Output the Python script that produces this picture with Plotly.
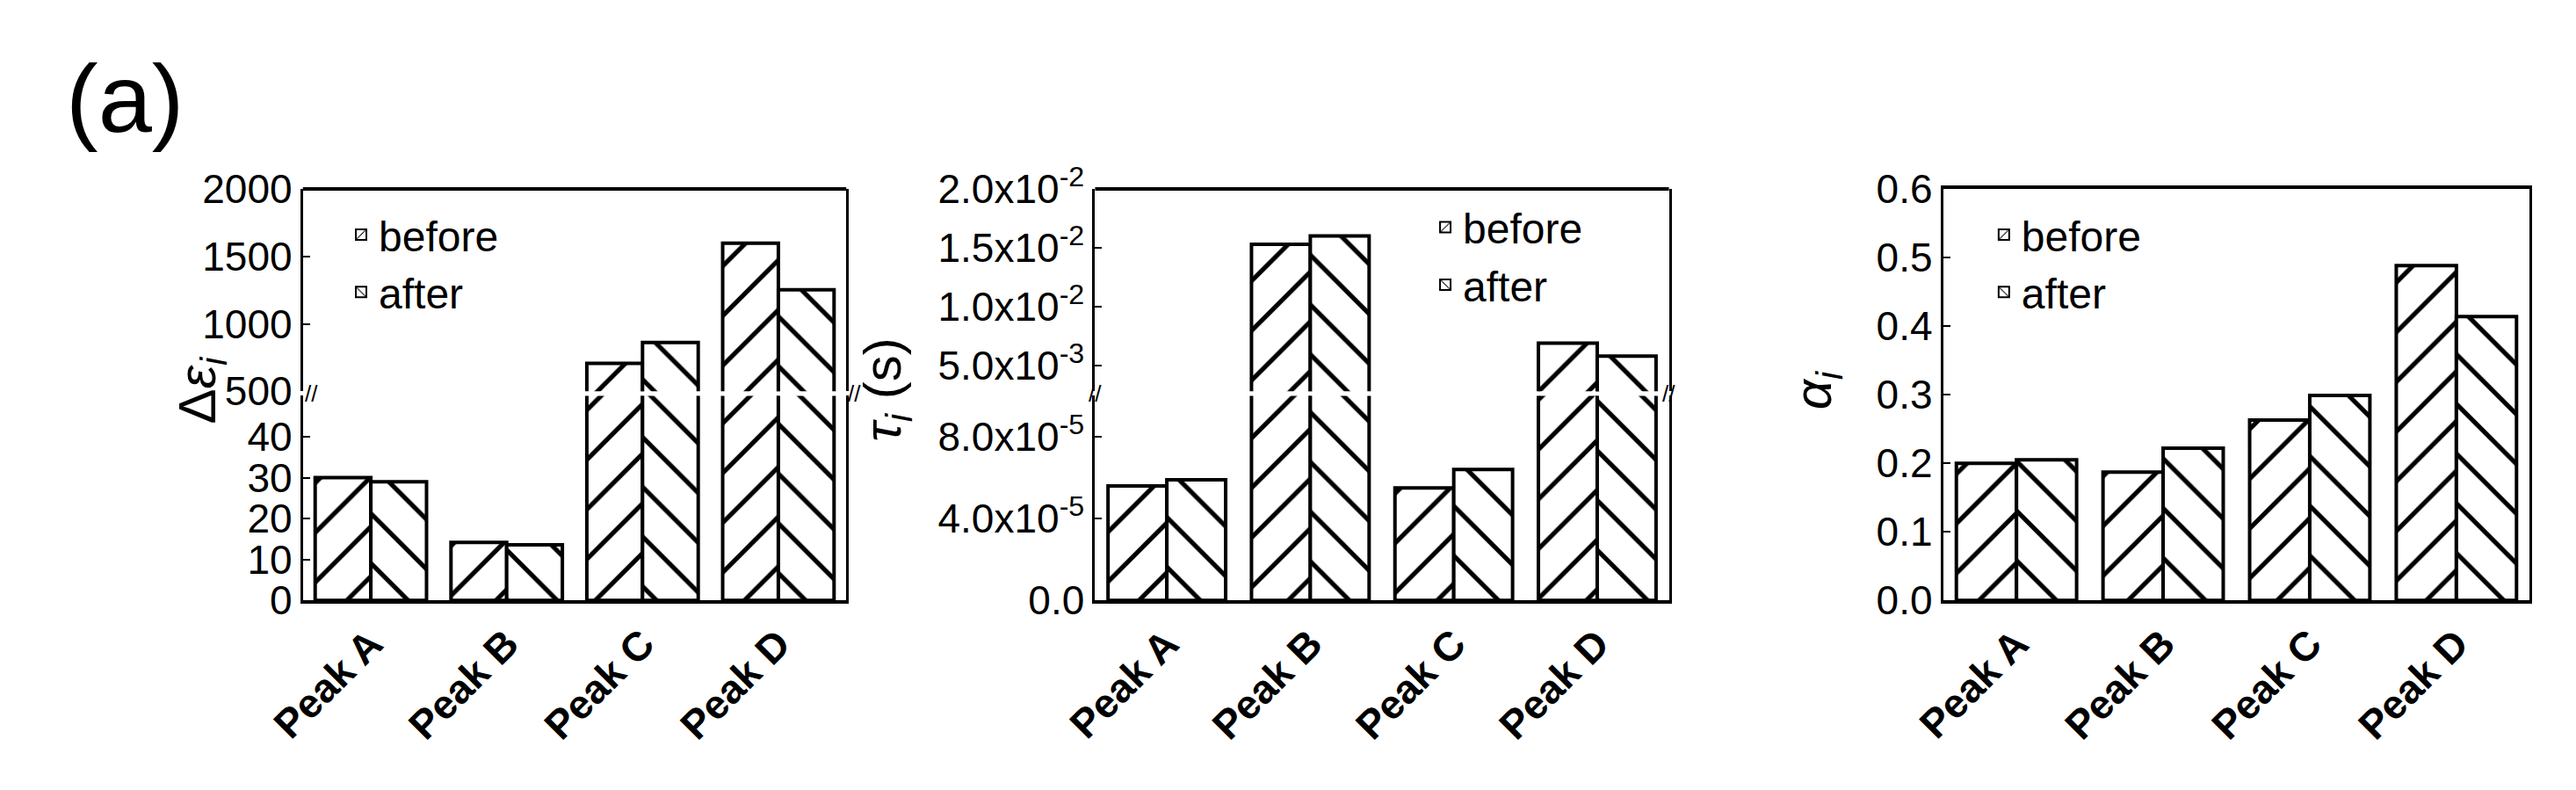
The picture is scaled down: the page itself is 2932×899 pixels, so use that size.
import plotly.graph_objects as go

peaks = ["Peak A", "Peak B", "Peak C", "Peak D"]

# panel 1: delta epsilon
deps_before = [30, 14.2, 708, 1598]
deps_after = [29, 13.6, 862, 1253]
# panel 2: tau (s)
tau_before = [5.6e-5, 1.53e-2, 5.5e-5, 6.9e-3]
tau_after = [5.9e-5, 1.60e-2, 6.4e-5, 5.8e-3]
# panel 3: alpha
alpha_before = [0.200, 0.187, 0.263, 0.488]
alpha_after = [0.205, 0.222, 0.299, 0.414]

FONT = "Liberation Sans"
LOW = [0.235, 0.512]
HIGH = [0.518, 0.792]
XDOM = [[0.102, 0.316], [0.414, 0.640], [0.748, 0.979]]

fig = go.Figure()


def add_bars(vals_b, vals_a, xa, ya, legend, showlegend):
    for name, vals, shape in [("before", vals_b, "/"), ("after", vals_a, "\\")]:
        fig.add_trace(go.Bar(
            x=peaks, y=vals, name=name, xaxis=xa, yaxis=ya,
            legend=legend, showlegend=showlegend,
            marker=dict(color="white", line=dict(color="black", width=4),
                        pattern=dict(shape=shape, fgcolor="black", fgopacity=1,
                                     bgcolor="white", size=40, solidity=0.13)),
        ))


add_bars(deps_before, deps_after, "x", "y", "legend", False)
add_bars(deps_before, deps_after, "x", "y2", "legend", True)
add_bars(tau_before, tau_after, "x2", "y3", "legend2", False)
add_bars(tau_before, tau_after, "x2", "y4", "legend2", True)
add_bars(alpha_before, alpha_after, "x3", "y5", "legend3", True)

tickfont = dict(family=FONT, size=46, color="black")
axis_common = dict(showline=True, linecolor="black", linewidth=3, mirror=True,
                   ticks="inside", ticklen=8, tickwidth=2, tickcolor="black",
                   showgrid=False, zeroline=False, tickfont=tickfont)


def xcommon(mirror):
    return dict(showline=True, linecolor="black", linewidth=4, mirror=mirror, ticks="",
                showgrid=False, tickangle=-45,
                tickfont=dict(family=FONT, size=46, color="black", weight="bold"))


fig.update_layout(
    xaxis=dict(domain=XDOM[0], anchor="y", **xcommon(False)),
    xaxis2=dict(domain=XDOM[1], anchor="y3", **xcommon(False)),
    xaxis3=dict(domain=XDOM[2], anchor="y5", **xcommon(True)),
    yaxis=dict(domain=LOW, anchor="x", range=[0, 50], tickvals=[0, 10, 20, 30, 40],
               **axis_common),
    yaxis2=dict(domain=HIGH, anchor="x", range=[500, 2000], tickvals=[500, 1000, 1500, 2000],
                **axis_common),
    yaxis3=dict(domain=LOW, anchor="x2", range=[0, 1.0e-4], tickvals=[0, 4e-5, 8e-5],
                ticktext=["0.0", "4.0x10<sup>-5</sup>", "8.0x10<sup>-5</sup>"], **axis_common),
    yaxis4=dict(domain=HIGH, anchor="x2", range=[2.8e-3, 2e-2],
                tickvals=[5e-3, 1e-2, 1.5e-2, 2e-2],
                ticktext=["5.0x10<sup>-3</sup>", "1.0x10<sup>-2</sup>",
                          "1.5x10<sup>-2</sup>", "2.0x10<sup>-2</sup>"], **axis_common),
    yaxis5=dict(domain=[LOW[0], HIGH[1]], anchor="x3", range=[0, 0.6], dtick=0.1,
                tickformat=".1f", **axis_common),
    barmode="group", bargap=0.18, bargroupgap=0.0,
)

# top frame line of the broken panels
for xa, ya in [("x", "y2"), ("x2", "y4")]:
    fig.add_shape(type="line", xref=xa + " domain", yref=ya + " domain",
                  x0=0, x1=1, y0=1, y1=1, line=dict(color="black", width=4))

legend_style = dict(font=dict(family=FONT, size=48, color="black"), bgcolor="rgba(0,0,0,0)",
                    itemsizing="constant", tracegroupgap=0)
fig.update_layout(
    legend=dict(x=0.118, y=0.775, xanchor="left", yanchor="top", **legend_style),
    legend2=dict(x=0.545, y=0.785, xanchor="left", yanchor="top", **legend_style),
    legend3=dict(x=0.765, y=0.775, xanchor="left", yanchor="top", **legend_style),
)

titles = [
    (0.048, "Δ<i>ε<sub>i</sub></i>"),
    (0.318, "<i>τ<sub>i</sub></i> (s)"),
    (0.712, "<i>α<sub>i</sub></i>"),
]
for x, t in titles:
    fig.add_annotation(x=x, y=0.52, xref="paper", yref="paper", text=t, showarrow=False,
                       textangle=-90, font=dict(family=FONT, size=60, color="black"))

# break marks
for xd in XDOM[:2]:
    for xx in xd:
        fig.add_annotation(x=xx, y=0.515, xref="paper", yref="paper", text="//",
                           showarrow=False, font=dict(family=FONT, size=26, color="black"))

fig.add_annotation(x=0.008, y=0.99, xref="paper", yref="paper", text="(a)", showarrow=False,
                   xanchor="left", yanchor="top", font=dict(family=FONT, size=110, color="black"))

fig.update_layout(width=2932, height=899, plot_bgcolor="white", paper_bgcolor="white",
                  margin=dict(l=0, r=0, t=0, b=0))

fig.write_html("out.html")
